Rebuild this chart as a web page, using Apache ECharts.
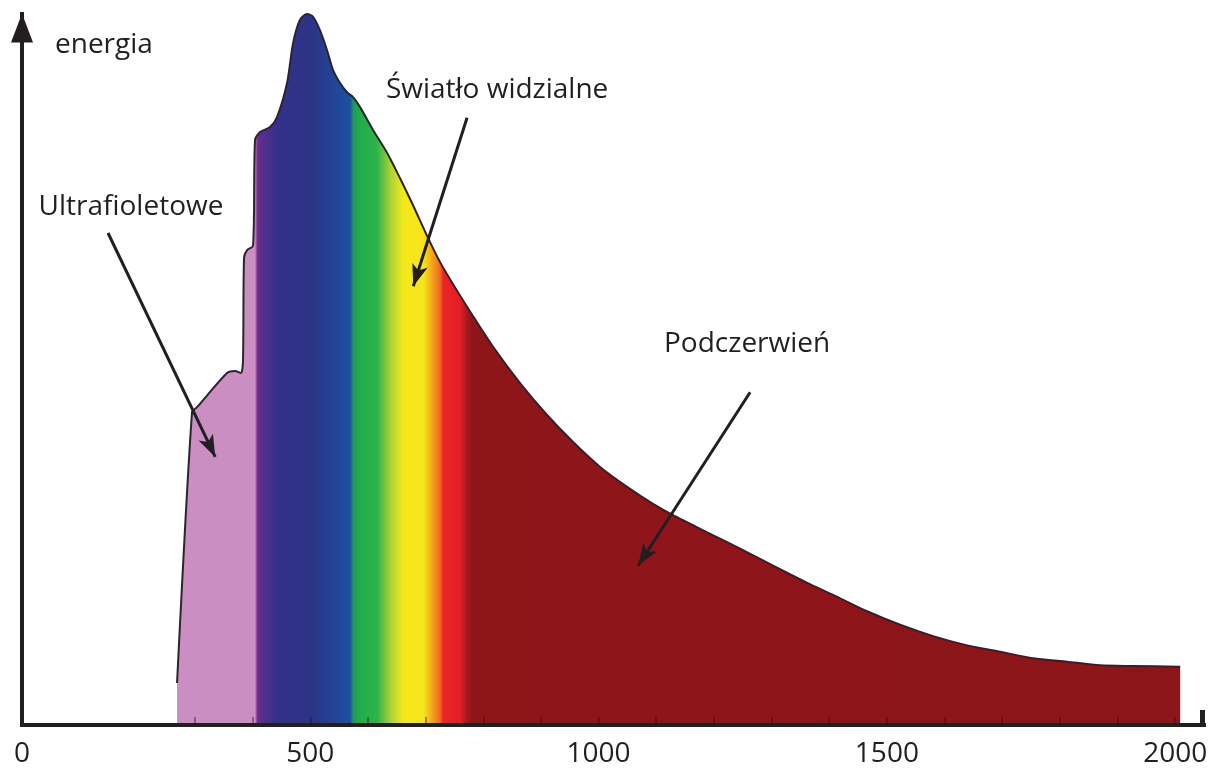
<!DOCTYPE html>
<html>
<head>
<meta charset="utf-8">
<script src="https://cdn.jsdelivr.net/npm/echarts@6/dist/echarts.min.js"></script>
<style>
html, body { margin: 0; padding: 0; background: #fff; }
#chart { width: 1212px; height: 769px; }
</style>
</head>
<body>
<div id="chart"></div>
<script>
// curve: wavelength (nm) and energy (peak = 100)
const wavelength = [268.9, 294.9, 303.6, 355.6, 369.5, 379.9, 383.3, 385.1, 390.3, 400.7,
    404.2, 412.8, 430.2, 442.3, 459.7, 470.1, 482.2, 494.4, 504.8, 516.9,
    529.1, 539.5, 551.6, 563.7, 574.2, 586.3, 608.8, 633.1, 655.7, 678.2,
    702.5, 725.1, 747.6, 782.3, 817.0, 863.8, 910.7, 955.8, 1002.6, 1049.4,
    1094.5, 1129.2, 1188.2, 1245.4, 1302.7, 1361.7, 1406.8, 1465.7, 1523.0, 1580.2,
    1639.2, 1696.4, 1753.7, 1812.7, 1869.9, 1927.1, 2008.7];
const energy = [5.9, 44.0, 44.7, 49.5, 49.8, 49.5, 51.3, 65.7, 66.8, 67.4,
    82.3, 83.4, 84.1, 85.5, 90.3, 95.9, 99.2, 100, 99.6, 97.7,
    94.9, 92.1, 90.3, 89.0, 88.3, 86.9, 83.7, 80.5, 76.9, 73.1,
    68.8, 65.1, 62.0, 57.5, 53.2, 48.1, 43.6, 39.8, 36.3, 33.5,
    31.1, 29.5, 27.1, 24.8, 22.4, 20.0, 18.3, 16.0, 14.1, 12.5,
    11.2, 10.3, 9.4, 8.9, 8.4, 8.3, 8.2];

const xTickLabels = [0, 500, 1000, 1500, 2000];
const xMinorTicks = [300, 400, 500, 600, 700, 800, 900, 1000, 1100, 1200,
    1300, 1400, 1500, 1600, 1700, 1800, 1900, 2000];
const xMax = 2050;

// colour bands of the spectrum fill
const spectrumNm = [268.9, 404, 408, 413, 430, 442, 500, 529, 569, 575,
    586, 616, 638, 661, 696, 708, 725, 731, 760, 772, 780, 2008.7];
const spectrumColors = ['#cb8ec3', '#cb8ec3', '#7d2f8f', '#5b2d8f', '#48308c', '#33318a',
    '#2c3385', '#263f93', '#1d50a0', '#1f9a56', '#21ad4b', '#2fb34a', '#a6cf38',
    '#f4e91b', '#f7e51b', '#f7b21d', '#f06a22', '#eb2427', '#e31f26', '#a2191f',
    '#8e1619', '#8c1519'];

// region captions and their pointer arrows (data coordinates)
const regionNames = ['Ultrafioletowe', 'Światło widzialne', 'Podczerwień'];
const regionLabelAt = [[189, 72.9], [824, 89.3], [1257.6, 53.6]];
const arrowFrom = [[149.2, 69.2], [771.9, 85.4], [1262.8, 46.8]];
const arrowTo = [[335.1, 37.7], [678.6, 61.7], [1068.5, 22.4]];

const ink = '#231f20';
const font = '"Open Sans", "Noto Sans", sans-serif';

const nmFirst = wavelength[0];
const nmLast = wavelength[wavelength.length - 1];
const stops = spectrumNm.map((nm, i) => ({
    offset: Math.min(1, Math.max(0, (nm - nmFirst) / (nmLast - nmFirst))),
    color: spectrumColors[i]
}));

const chart = echarts.init(document.getElementById('chart'));

chart.setOption({
    animation: false,
    backgroundColor: '#fff',
    grid: { left: 22, right: 8, top: 14, bottom: 44 },
    xAxis: {
        type: 'value',
        min: 0,
        max: xMax,
        interval: 500,
        z: 5,
        splitLine: { show: false },
        axisLine: { lineStyle: { color: ink, width: 4, cap: 'square' } },
        axisTick: {
            show: true,
            inside: true,
            length: 8,
            customValues: xMinorTicks,
            lineStyle: { color: 'rgba(50,10,10,0.4)', width: 2 }
        },
        axisLabel: {
            customValues: xTickLabels,
            formatter: v => (v % 500 === 0 ? String(v) : ''),
            color: ink,
            fontSize: 28,
            fontFamily: font,
            margin: 15
        }
    },
    yAxis: {
        type: 'value',
        min: 0,
        max: 100,
        name: 'energia',
        nameLocation: 'end',
        nameGap: -31,
        nameTextStyle: {
            color: ink,
            fontSize: 28,
            fontFamily: font,
            align: 'left',
            verticalAlign: 'middle',
            padding: [0, 0, 0, 33]
        },
        splitLine: { show: false },
        axisTick: { show: false },
        axisLabel: { show: false },
        axisLine: {
            lineStyle: { color: ink, width: 4, cap: 'square' },
            symbol: ['none', 'triangle'],
            symbolSize: [22, 29],
            symbolOffset: [0, -14]
        }
    },
    series: [{
        type: 'line',
        data: wavelength.map((w, i) => [w, energy[i]]),
        smooth: 0.25,
        clip: false,
        showSymbol: false,
        symbol: 'none',
        silent: true,
        lineStyle: { color: '#2b2530', width: 2 },
        areaStyle: {
            opacity: 1,
            color: new echarts.graphic.LinearGradient(0, 0, 1, 0, stops)
        },
        markLine: {
            silent: true,
            symbol: ['none', 'arrow'],
            symbolSize: [12, 22],
            label: { show: false },
            lineStyle: { color: ink, width: 3, type: 'solid' },
            emphasis: { disabled: true },
            data: arrowFrom.map((p, i) => [{ coord: p }, { coord: arrowTo[i] }])
        },
        markPoint: {
            silent: true,
            symbol: 'circle',
            symbolSize: 1,
            itemStyle: { color: 'rgba(0,0,0,0)' },
            label: {
                show: true,
                position: 'inside',
                color: ink,
                fontSize: 28,
                fontFamily: font
            },
            data: regionNames.map((name, i) => ({
                coord: regionLabelAt[i],
                label: { formatter: name }
            }))
        }
    }]
});

// short upright stop at the right end of the x axis
const end = chart.convertToPixel({ gridIndex: 0 }, [xMax, 0]);
chart.setOption({
    graphic: [{
        type: 'rect',
        z: 10,
        shape: { x: end[0] - 4, y: end[1] - 15, width: 5, height: 17 },
        style: { fill: ink }
    }]
});
</script>
</body>
</html>
